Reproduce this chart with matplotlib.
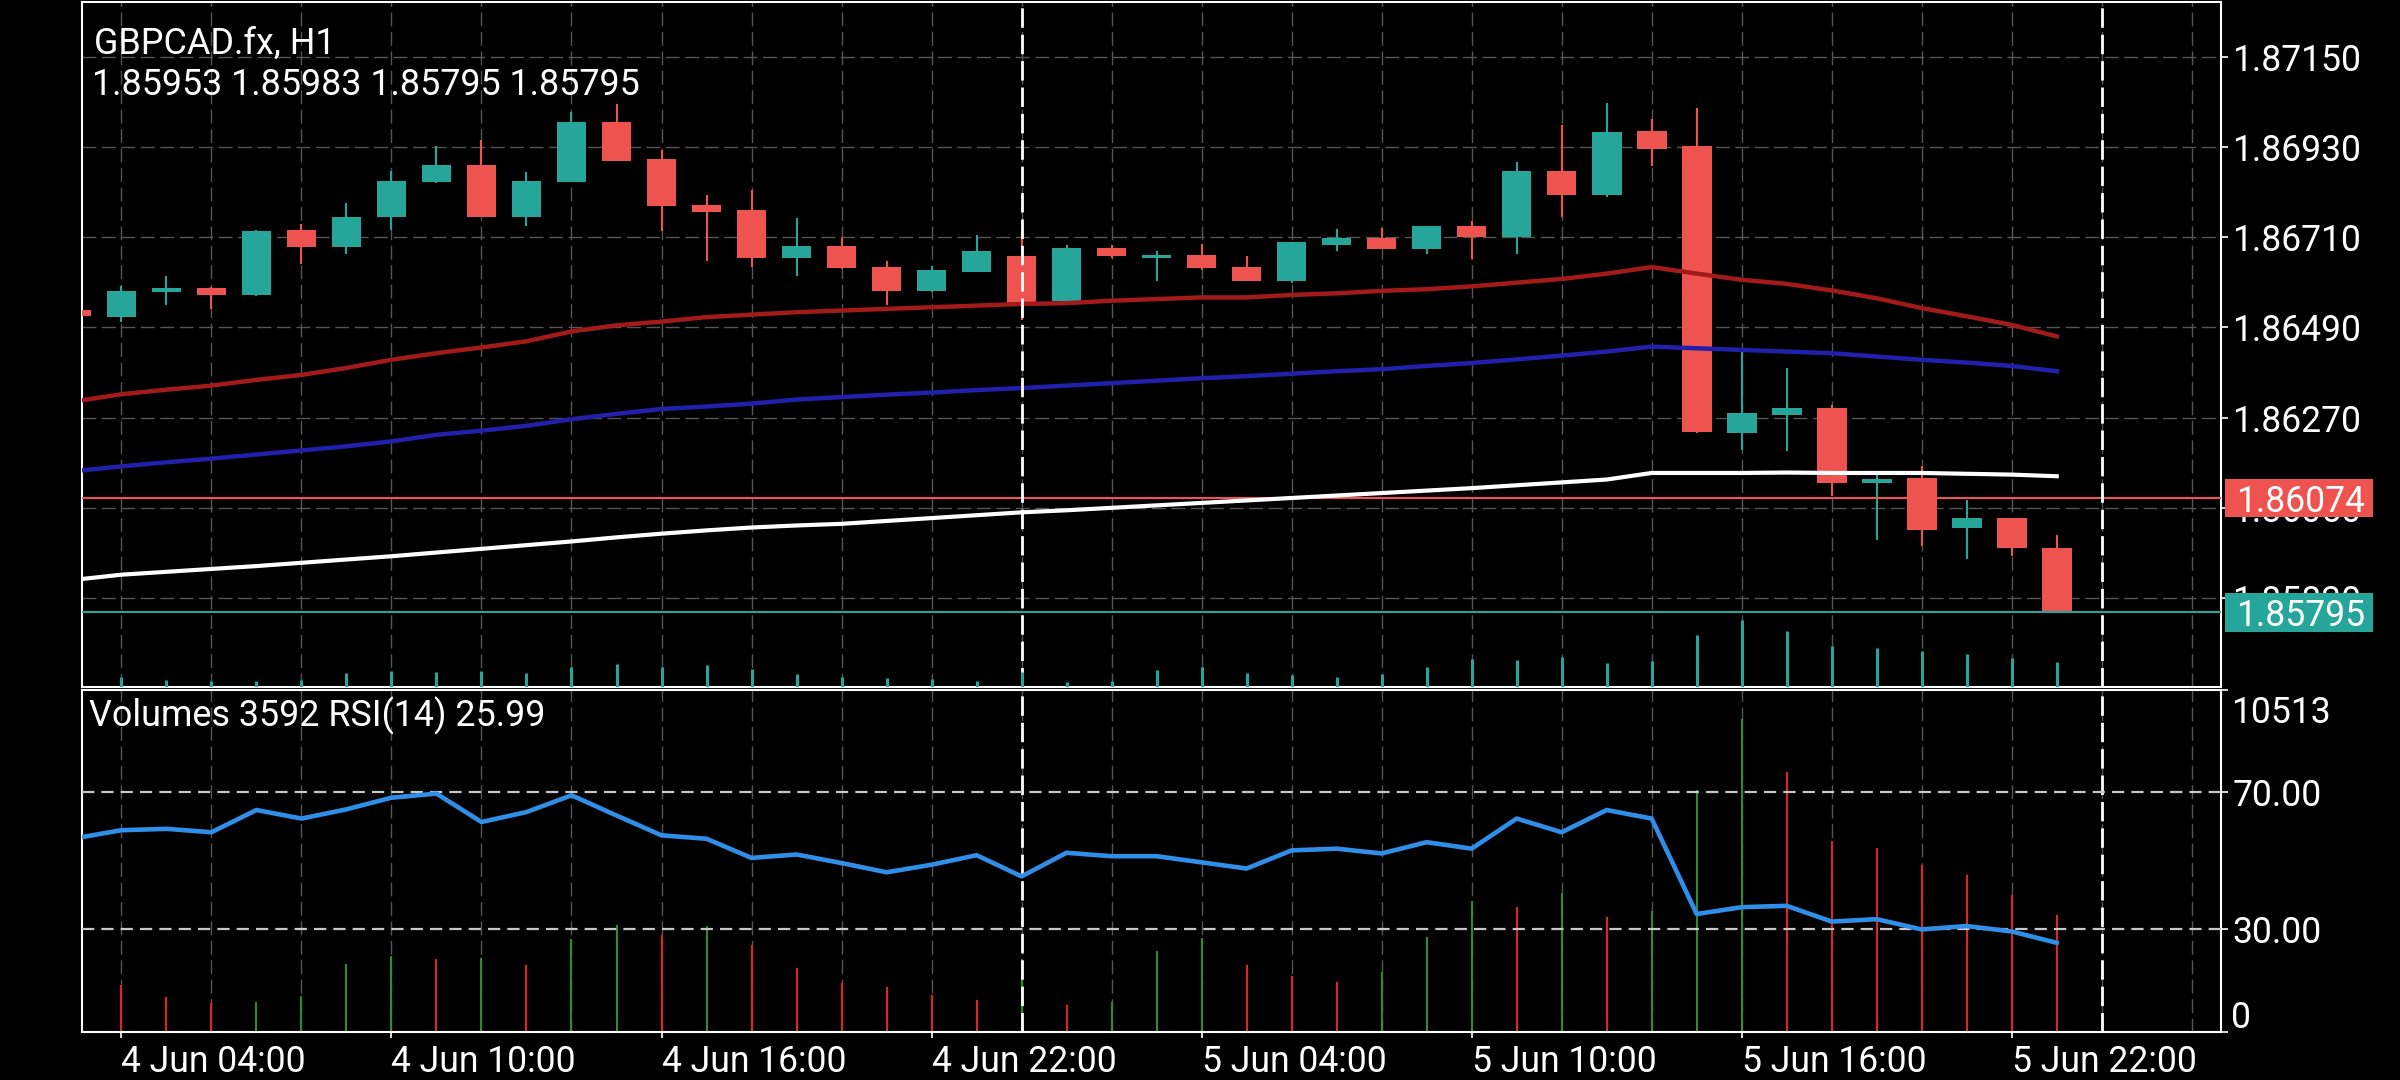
"""
GBPCAD.fx H1 — candles + MAs (main window), Volumes + RSI(14) subwindow.
MT4 mobile dark theme look.
"""
import matplotlib
matplotlib.use("Agg")
import matplotlib.pyplot as plt
import matplotlib.transforms as mtransforms
from matplotlib.patches import Rectangle
import numpy as np

plt.rcParams['font.family'] = ['Roboto', 'DejaVu Sans']

SYMBOL = "GBPCAD.fx, H1"
LAST_OHLC = "1.85953 1.85983 1.85795 1.85795"
SUB_TITLE = "Volumes 3592 RSI(14) 25.99"

# one bar per hour, 4 Jun 03:00 .. 5 Jun 23:00
opens = [1.86533, 1.86516, 1.86577, 1.86585, 1.86568, 1.86728, 1.86686, 1.86758, 1.86845, 1.86886,
         1.86759, 1.86845, 1.86991, 1.86901, 1.86789, 1.86776, 1.86660, 1.86689, 1.86638, 1.86578,
         1.86626, 1.86664, 1.86555, 1.86683, 1.86660, 1.86667, 1.86638, 1.86603, 1.86691, 1.86709,
         1.86681, 1.86737, 1.86711, 1.86871, 1.86813, 1.86969, 1.86931, 1.86232, 1.86277, 1.86294,
         1.86110, 1.86123, 1.86000, 1.86025, 1.85953]
highs = [1.86540, 1.86590, 1.86616, 1.86588, 1.86728, 1.86742, 1.86794, 1.86871, 1.86933, 1.86947,
         1.86869, 1.87014, 1.87035, 1.86923, 1.86813, 1.86825, 1.86756, 1.86709, 1.86652, 1.86640,
         1.86716, 1.86728, 1.86691, 1.86691, 1.86675, 1.86694, 1.86664, 1.86699, 1.86729, 1.86732,
         1.86738, 1.86750, 1.86893, 1.86984, 1.87036, 1.86998, 1.87024, 1.86432, 1.86391, 1.86300,
         1.86135, 1.86151, 1.86070, 1.86026, 1.85983]
lows = [1.86510, 1.86502, 1.86545, 1.86535, 1.86566, 1.86645, 1.86669, 1.86728, 1.86843, 1.86759,
        1.86737, 1.86845, 1.86895, 1.86726, 1.86651, 1.86636, 1.86616, 1.86633, 1.86545, 1.86575,
        1.86625, 1.86508, 1.86554, 1.86659, 1.86603, 1.86629, 1.86603, 1.86599, 1.86677, 1.86680,
        1.86669, 1.86657, 1.86669, 1.86760, 1.86807, 1.86884, 1.86233, 1.86190, 1.86188, 1.86080,
        1.85971, 1.85956, 1.85925, 1.85932, 1.85795]
closes = [1.86518, 1.86579, 1.86586, 1.86570, 1.86725, 1.86686, 1.86759, 1.86847, 1.86886, 1.86759,
          1.86847, 1.86991, 1.86896, 1.86785, 1.86772, 1.86660, 1.86689, 1.86634, 1.86578, 1.86630,
          1.86677, 1.86547, 1.86683, 1.86663, 1.86667, 1.86634, 1.86603, 1.86698, 1.86709, 1.86681,
          1.86737, 1.86711, 1.86871, 1.86813, 1.86966, 1.86925, 1.86234, 1.86281, 1.86294, 1.86110,
          1.86121, 1.85997, 1.86025, 1.85951, 1.85795]

ma_red = [1.86310, 1.86327, 1.86338, 1.86348, 1.86362, 1.86374, 1.86391, 1.86411, 1.86427, 1.86441,
          1.86456, 1.86480, 1.86495, 1.86504, 1.86515, 1.86521, 1.86527, 1.86531, 1.86535, 1.86539,
          1.86543, 1.86547, 1.86549, 1.86555, 1.86559, 1.86563, 1.86563, 1.86569, 1.86573, 1.86579,
          1.86583, 1.86590, 1.86599, 1.86608, 1.86621, 1.86637, 1.86621, 1.86606, 1.86596, 1.86580,
          1.86561, 1.86537, 1.86517, 1.86496, 1.86468]
ma_blue = [1.86140, 1.86151, 1.86161, 1.86170, 1.86180, 1.86190, 1.86200, 1.86212, 1.86228, 1.86238,
           1.86250, 1.86266, 1.86279, 1.86291, 1.86297, 1.86304, 1.86314, 1.86320, 1.86326, 1.86331,
           1.86337, 1.86342, 1.86348, 1.86354, 1.86360, 1.86366, 1.86371, 1.86377, 1.86383, 1.86388,
           1.86396, 1.86403, 1.86412, 1.86421, 1.86431, 1.86443, 1.86439, 1.86435, 1.86431, 1.86427,
           1.86419, 1.86411, 1.86404, 1.86396, 1.86383]
ma_white = [1.85875, 1.85887, 1.85894, 1.85901, 1.85908, 1.85916, 1.85924, 1.85932, 1.85941, 1.85950,
            1.85959, 1.85968, 1.85978, 1.85987, 1.85995, 1.86002, 1.86007, 1.86011, 1.86018, 1.86025,
            1.86032, 1.86039, 1.86044, 1.86050, 1.86056, 1.86062, 1.86068, 1.86074, 1.86080, 1.86086,
            1.86092, 1.86098, 1.86105, 1.86112, 1.86119, 1.86135, 1.86135, 1.86135, 1.86136, 1.86135,
            1.86135, 1.86135, 1.86133, 1.86131, 1.86127]

volumes = [1600, 1433, 1075, 890, 921, 1095, 2077, 2323, 2230, 2260,
           2047, 2835, 3275, 2968, 3244, 2661, 1944, 1504, 1382, 1126,
           972, 2221, 819, 921, 2487, 2886, 2047, 1709, 1535, 1842,
           2917, 4022, 3838, 4268, 3531, 3715, 7420, 9599, 7983, 5854,
           5649, 5117, 4810, 4216, 3592]
rsi = [56.6, 58.9, 59.3, 58.3, 64.8, 62.3, 65.0, 68.4, 69.6, 61.3,
       64.2, 69.1, 63.2, 57.4, 56.4, 50.8, 51.8, 49.3, 46.6, 48.8,
       51.6, 45.4, 52.3, 51.3, 51.3, 49.5, 47.7, 53.0, 53.5, 52.1,
       55.4, 53.5, 62.3, 58.3, 64.8, 62.3, 34.4, 36.4, 36.8, 32.2,
       32.9, 29.9, 30.9, 29.3, 25.99]

time_tick_bars = [1, 7, 13, 19, 25, 31, 37, 43]
time_tick_labels = ["4 Jun 04:00", "4 Jun 10:00", "4 Jun 16:00", "4 Jun 22:00",
                    "5 Jun 04:00", "5 Jun 10:00", "5 Jun 16:00", "5 Jun 22:00"]
price_ticks = [1.87150, 1.86930, 1.86710, 1.86490, 1.86270, 1.86050, 1.85830]
day_breaks = [21, 45]
level_line = 1.86074
bid_line = 1.85795
vol_max = 10513
rsi_levels = [70, 30]

BG = "black"
UP = "#26a69a"
DOWN = "#ef5350"
GRID = "#555555"
FS = 25.8
FS_AX = 25.6

fig = plt.figure(figsize=(24, 10.8), dpi=100, facecolor=BG)
ax = fig.add_axes([0.034, 0.3636, 0.8916, 0.6343], facecolor=BG)
axl = fig.add_axes([0.034, 0.0447, 0.8916, 0.3168], facecolor=BG, sharex=ax)

x = np.arange(len(opens))
o = np.array(opens); c = np.array(closes)
col = np.where(c >= o, UP, DOWN)

# --- main window ---
for gx in range(1, 48, 2):
    for a in (ax, axl):
        a.axvline(gx, color=GRID, lw=1.0, ls=(0, (10, 4)), zorder=1)
for p in price_ticks:
    ax.axhline(p, color=GRID, lw=1.0, ls=(0, (10, 4)), zorder=1)

ax.vlines(x, lows, highs, colors=col, lw=1.5, zorder=3)
ax.bar(x, np.maximum(np.abs(c - o), 0.00002), bottom=np.minimum(o, c), width=0.66,
       color=col, zorder=4)
ax.plot(x, ma_red, color="#a31a1a", lw=3.2, zorder=5)
ax.plot(x, ma_blue, color="#2020aa", lw=3.2, zorder=5)
ax.plot(x, ma_white, color="white", lw=3.0, zorder=5)
ax.axhline(level_line, color=DOWN, lw=1.5, zorder=4.5)
ax.axhline(bid_line, color=UP, lw=1.5, zorder=4.5)

for d in day_breaks:
    for a in (ax, axl):
        a.axvline(d, color="white", lw=2.0, ls=(0, (7, 2.5)), zorder=6)

ax.set_xlim(0.115, 47.66)
ax.set_ylim(1.856124, 1.872826)

axv = ax.twinx()
axv.vlines(x, 0, volumes, colors=UP, lw=2.2)
axv.set_ylim(0, vol_max * 9.3)
axv.set_axis_off()

ax.yaxis.tick_right()
ax.set_yticks(price_ticks)
ax.set_yticklabels([f"{p:.5f}" for p in price_ticks])
ax.tick_params(axis="y", colors="white", length=5, width=1.2, pad=3, labelsize=FS_AX)
ax.tick_params(axis="x", bottom=False, labelbottom=False)
for s in ax.spines.values():
    s.set_color("white"); s.set_linewidth(1.5)

# price boxes on the right scale
btr = mtransforms.blended_transform_factory(ax.transAxes, ax.transData)
box_h = 0.000936
for val, fc in ((level_line, DOWN), (bid_line, UP)):
    ax.add_patch(Rectangle((1.0017, val - box_h / 2), 0.0692, box_h, transform=btr,
                           facecolor=fc, edgecolor="none", clip_on=False, zorder=10))
    ax.text(1.0068, val, f"{val:.5f}", transform=btr, color="white", fontsize=FS_AX,
            ha="left", va="center_baseline", clip_on=False, zorder=11)

fig.text(0.0393, 0.9506, SYMBOL, color="white", fontsize=FS, va="baseline")
fig.text(0.0383, 0.912, LAST_OHLC, color="white", fontsize=FS, va="baseline")

# --- Volumes + RSI subwindow ---
v = np.array(volumes)
vcol = ["#e02424"] + ["#2e8b2e" if v[i] > v[i - 1] else "#e02424" for i in range(1, len(v))]
axl.vlines(x, 0, volumes, colors=vcol, lw=1.5, zorder=2)
axl.set_ylim(0, vol_max)
axl.set_yticks([])
for s in axl.spines.values():
    s.set_color("white"); s.set_linewidth(1.5)

axr = axl.twinx()
axr.set_ylim(0, 100)
for lv in rsi_levels:
    axr.axhline(lv, color="#c8c8c8", lw=1.6, ls=(0, (5.5, 3.2)), zorder=2)
axr.plot(x, rsi, color="#2f8fe8", lw=3.3, zorder=4)
axr.set_yticks([0, 30, 70, 100])
axr.set_yticklabels(["", "30.00", "70.00", ""])
axr.tick_params(axis="y", colors="white", length=5, width=1.2, pad=3, labelsize=FS_AX)
for s in axr.spines.values():
    s.set_visible(False)
axr.annotate(str(vol_max), xy=(1, 1), xycoords="axes fraction", xytext=(10, -19),
             textcoords="offset pixels", color="white", fontsize=FS_AX, ha="left", va="center_baseline")
axr.annotate("0", xy=(1, 0), xycoords="axes fraction", xytext=(10, 18),
             textcoords="offset pixels", color="white", fontsize=FS_AX, ha="left", va="center_baseline")

axl.set_xticks(time_tick_bars)
axl.set_xticklabels(time_tick_labels)
axl.tick_params(axis="x", colors="white", length=4, width=1.2, pad=5, labelsize=FS_AX)
for lbl in axl.get_xticklabels():
    lbl.set_ha("left")

fig.text(0.0371, 0.3269, SUB_TITLE, color="white", fontsize=FS, va="baseline")

fig.savefig("out.png", dpi=100, facecolor=BG)
